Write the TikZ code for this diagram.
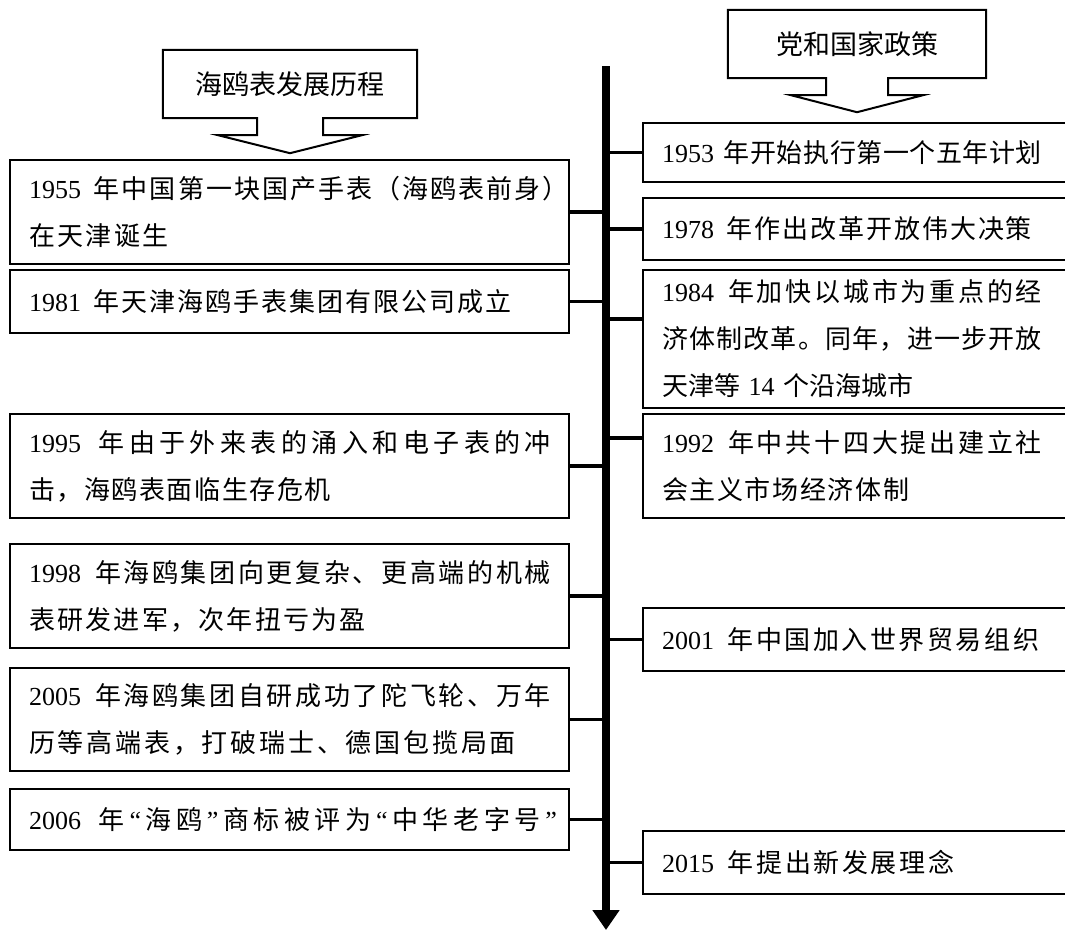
\documentclass[tikz,border=0pt]{standalone}
\usepackage{fontspec}
\setmainfont{Noto Sans CJK SC}
\newfontfamily\tms{Liberation Serif}
\usetikzlibrary{arrows.meta,calc}
\def\jst#1{\jstB#1\relax}
\def\jstB#1{{#1}\jstA}
\def\jstA#1{\ifx\relax#1\else\hskip0pt plus 1fil{#1}\expandafter\jstA\fi}
\newcommand\jl[2]{\makebox[#1pt][s]{\jst{#2}}}
\begin{document}
\begin{tikzpicture}[x=1pt,y=-1pt,
  box/.style={draw, line width=2pt, inner xsep=19pt, inner ysep=0pt, align=left,
    anchor=north west, font=\fontsize{26pt}{47pt}\selectfont},
  lbox/.style={box, text width=521pt},
  rbox/.style={box, text width=402pt},
  conn/.style={line width=3.3pt},
  hdrtext/.style={inner sep=0pt, minimum height=68pt, font=\fontsize{27pt}{30pt}\selectfont},
  hdr/.style={line width=2pt, line join=miter},
  axisline/.style={line width=7.7pt, -{Triangle[length=20pt,width=26pt]}}]
\useasboundingbox (0,0) rectangle (1065,930);
\clip (0,0) rectangle (1065,930);

% headers
\node[hdrtext, minimum width=254pt] (h1) at (290,84) {海鸥表发展历程};
\draw[hdr] (h1.north west) -- (h1.north east) -- (h1.south east)
  -- ($(h1.south)+(33,0)$) -- ++(0,17) -- ++(39,0) -- ($(h1.south)+(0,35)$)
  -- ($(h1.south)+(-72,17)$) -- ++(39,0) -- ++(0,-17) -- (h1.south west) -- cycle;
\node[hdrtext, minimum width=258pt] (h2) at (857,44) {党和国家政策};
\draw[hdr] (h2.north west) -- (h2.north east) -- (h2.south east)
  -- ($(h2.south)+(31,0)$) -- ++(0,17) -- ++(35,0) -- ($(h2.south)+(0,34)$)
  -- ($(h2.south)+(-66,17)$) -- ++(35,0) -- ++(0,-17) -- (h2.south west) -- cycle;

% left boxes
\node[lbox, minimum height=104pt] (l1) at (9,159)
  {\jl{540}{{\tms 1955}\ 年中国第一块国产手表（海鸥表前身）}\\\jl{140}{在天津诞生}};
\node[lbox, minimum height=63pt] (l2) at (9,269)
  {\jl{483}{{\tms 1981}\ 年天津海鸥手表集团有限公司成立}};
\node[lbox, minimum height=104pt] (l3) at (9,413)
  {\jl{522}{{\tms 1995}\ 年由于外来表的涌入和电子表的冲}\\\jl{302}{击，海鸥表面临生存危机}};
\node[lbox, minimum height=104pt] (l4) at (9,543)
  {\jl{522}{{\tms 1998}\ 年海鸥集团向更复杂、更高端的机械}\\\jl{337}{表研发进军，次年扭亏为盈}};
\node[lbox, minimum height=103pt] (l5) at (9,667)
  {\jl{522}{{\tms 2005}\ 年海鸥集团自研成功了陀飞轮、万年}\\\jl{487}{历等高端表，打破瑞士、德国包揽局面}};
\node[lbox, minimum height=61pt] (l6) at (9,788)
  {\jl{528}{{\tms 2006}\ 年{\tms “}海鸥{\tms ”}商标被评为{\tms “}中华老字号{\tms ”}}};

% right boxes
\node[rbox, minimum height=59pt] (r1) at (642,122)
  {\jl{380}{{\tms 1953}\ 年开始执行第一个五年计划}};
\node[rbox, minimum height=62pt] (r2) at (642,197)
  {\jl{370}{{\tms 1978}\ 年作出改革开放伟大决策}};
\node[rbox, minimum height=138pt] (r3) at (642,269)
  {\jl{380}{{\tms 1984}\ 年加快以城市为重点的经}\\\jl{380}{济体制改革。同年，进一步开放}\\\jl{240}{天津等\ {\tms 14}\ 个沿海城市}};
\node[rbox, minimum height=104pt] (r4) at (642,413)
  {\jl{380}{{\tms 1992}\ 年中共十四大提出建立社}\\\jl{247}{会主义市场经济体制}};
\node[rbox, minimum height=63pt] (r5) at (642,607)
  {\jl{377}{{\tms 2001}\ 年中国加入世界贸易组织}};
\node[rbox, minimum height=63pt] (r6) at (642,830)
  {\jl{292}{{\tms 2015}\ 年提出新发展理念}};

% axis
\coordinate (axtop) at (606,66);
\coordinate (axbot) at (606,930);

% connectors
\foreach \b in {l1,l2,l3,l4,l5,l6}
  \draw[conn] (\b.east) -- (\b.east -| axtop);
\foreach \b in {r1,r2,r5,r6}
  \draw[conn] (\b.west) -- (\b.west -| axtop);
\coordinate (r3c) at ($(r3.north west)+(0,50)$);
\coordinate (r4c) at ($(r4.north west)+(0,25)$);
\draw[conn] (r3c) -- (r3c -| axtop);
\draw[conn] (r4c) -- (r4c -| axtop);

\draw[axisline] (axtop) -- (axbot);
\end{tikzpicture}
\end{document}
